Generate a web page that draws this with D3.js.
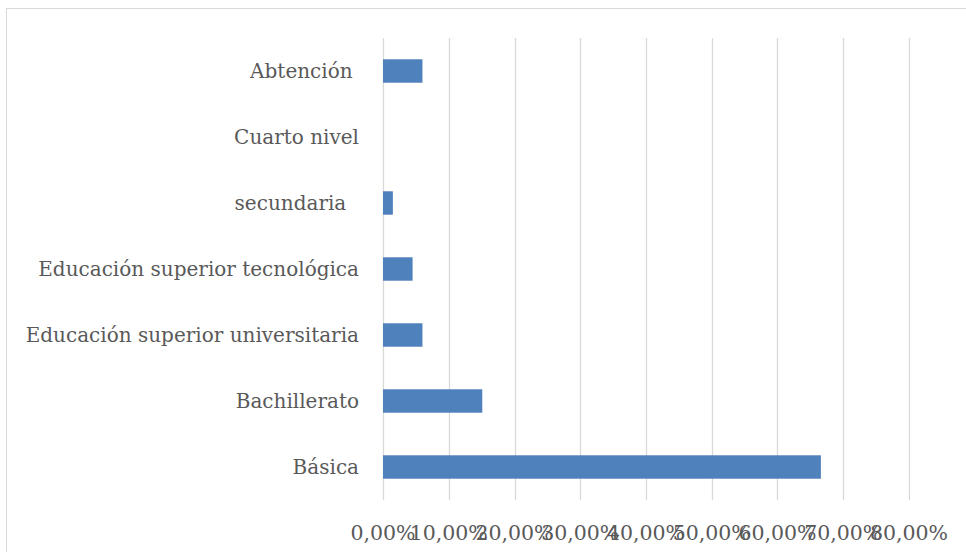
<!DOCTYPE html>
<html>
<head>
<meta charset="utf-8">
<script src="https://cdn.jsdelivr.net/npm/d3@7"></script>
<style>
  body { margin: 0; background: #fff; }
  svg { display: block; }
  text { font-family: "DejaVu Serif", "Liberation Serif", serif; fill: #595959; }
</style>
</head>
<body>
<svg id="chart" width="966" height="552"></svg>
<script>
// ── Data ──────────────────────────────────────────────────────────
const categories = [
  "Abtención ",
  "Cuarto nivel",
  "secundaria  ",
  "Educación superior tecnológica",
  "Educación superior universitaria",
  "Bachillerato",
  "Básica"
];
const values = [0.06, 0, 0.015, 0.045, 0.06, 0.151, 0.666];
const tickValues = [0, 0.1, 0.2, 0.3, 0.4, 0.5, 0.6, 0.7, 0.8];

// ── Layout ────────────────────────────────────────────────────────
const svg = d3.select("#chart");
const plot = { left: 383, right: 909, top: 38, bottom: 500 };

const x = d3.scaleLinear().domain([0, 0.8]).range([plot.left, plot.right]);
const y = d3.scaleBand().domain(categories).range([plot.top, plot.bottom]).paddingInner(0.645).paddingOuter(0.3225);

const pct = d3.format(".2f");
const fmt = v => pct(v * 100).replace(".", ",") + "%";

// chart frame
svg.append("rect")
  .attr("x", 6.5).attr("y", 8.5)
  .attr("width", 1000).attr("height", 600)
  .attr("fill", "none").attr("stroke", "#d9d9d9");

// gridlines
svg.append("g").selectAll("line")
  .data(tickValues)
  .join("line")
  .attr("x1", d => Math.round(x(d)) + 0.5)
  .attr("x2", d => Math.round(x(d)) + 0.5)
  .attr("y1", plot.top).attr("y2", plot.bottom)
  .attr("stroke", "#d9d9d9").attr("stroke-width", 1.3);

// bars
svg.append("g").selectAll("rect")
  .data(categories.map((c, i) => ({ c, v: values[i] })).filter(d => d.v > 0))
  .join("rect")
  .attr("x", x(0))
  .attr("y", d => y(d.c))
  .attr("width", d => x(d.v) - x(0))
  .attr("height", y.bandwidth())
  .attr("fill", "#4f81bd");

// category labels
svg.append("g").selectAll("text")
  .data(categories)
  .join("text")
  .attr("x", 359)
  .attr("y", d => y(d) + y.bandwidth() / 2)
  .attr("dy", "0.35em")
  .attr("text-anchor", "end")
  .attr("xml:space", "preserve")
  .style("white-space", "pre")
  .style("font-size", "20px")
  .text(d => d);

// x tick labels
svg.append("g").selectAll("text")
  .data(tickValues)
  .join("text")
  .attr("x", d => x(d))
  .attr("y", 540)
  .attr("text-anchor", "middle")
  .style("font-size", "20.5px")
  .text(fmt);
</script>
</body>
</html>
